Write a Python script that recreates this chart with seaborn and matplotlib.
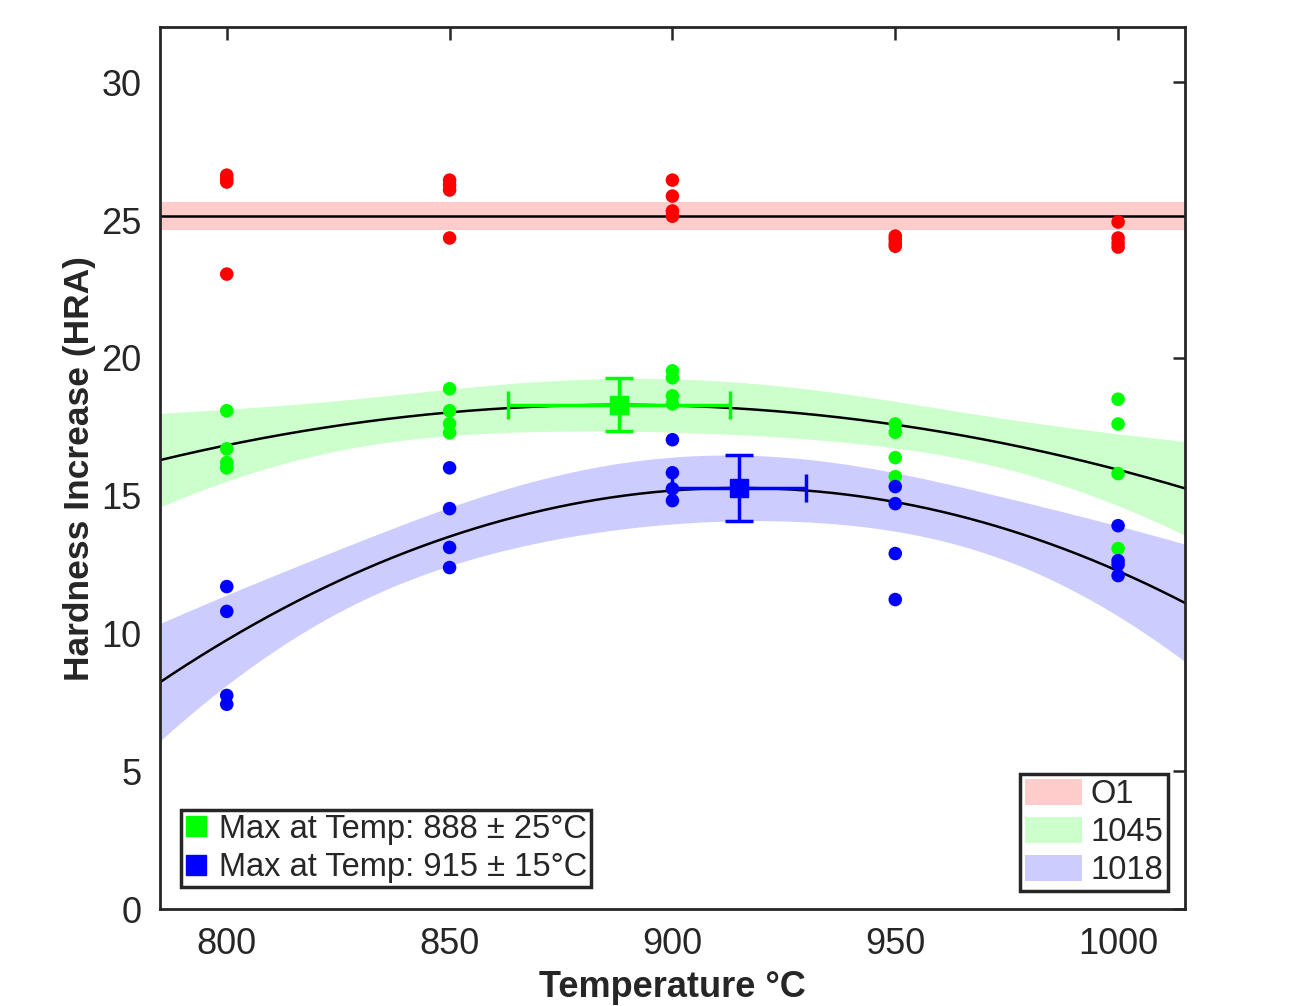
import numpy as np
import pandas as pd
import matplotlib
matplotlib.use("Agg")
import matplotlib.pyplot as plt
import seaborn as sns
from matplotlib.lines import Line2D
from matplotlib.patches import Patch

# ------------------------
# Data
# ------------------------
temps = [800, 850, 900, 950, 1000]

o1_hardness = [[26.63, 26.49, 26.38, 23.04],
               [26.45, 26.27, 26.09, 24.35],
               [26.45, 25.87, 25.33, 25.14],
               [24.42, 24.30, 24.15, 24.05],
               [24.93, 24.35, 24.17, 24.02]]
s1045_hardness = [[18.08, 16.70, 16.20, 16.01],
                  [18.88, 18.08, 17.61, 17.28],
                  [19.53, 19.28, 18.62, 18.33],
                  [17.60, 17.30, 16.38, 15.69],
                  [18.50, 17.60, 15.80, 13.08]]
s1018_hardness = [[11.70, 10.80, 7.75, 7.43],
                  [16.01, 14.53, 13.12, 12.39],
                  [17.03, 15.83, 15.25, 14.82],
                  [15.33, 14.71, 12.90, 11.23],
                  [13.91, 12.64, 12.50, 12.10]]

steels = ['O1', '1045', '1018']
fit_order = [0, 2, 2]
point_colors = ['#ff0000', '#00ff00', '#0000ff']
band_colors = ['#ffcccc', '#ccffcc', '#ccccff']

max_temp = [888, 915]
max_temp_err = [25, 15]

# t(0.975, dof) for the 95% confidence bands
t975 = {17: 2.1098, 19: 2.0930}

rows = []
for steel, data in zip(steels, [o1_hardness, s1045_hardness, s1018_hardness]):
    for T, vals in zip(temps, data):
        for v in vals:
            rows.append({'Steel': steel, 'Temp': T, 'Hardness': v})
df = pd.DataFrame(rows)


def poly_fit_ci(x, y, order, xg):
    # least squares polynomial fit with 95% confidence band of the mean
    X = np.vander(x, order + 1)
    coef, *_ = np.linalg.lstsq(X, y, rcond=None)
    resid = y - X @ coef
    dof = len(x) - (order + 1)
    s2 = resid @ resid / dof
    XtX_inv = np.linalg.inv(X.T @ X)
    Xg = np.vander(xg, order + 1)
    yg = Xg @ coef
    se = np.sqrt(s2 * np.einsum('ij,jk,ik->i', Xg, XtX_inv, Xg))
    return yg, t975[dof] * se


# ------------------------
# Plot
# ------------------------
sns.set_theme(style="white")
plt.rcParams['font.family'] = ['Liberation Sans', 'DejaVu Sans']

fig = plt.figure(figsize=(13, 10.06), dpi=100)
ax = fig.add_axes([0.123, 0.0964, 0.7885, 0.8766])

xg = np.linspace(785, 1015, 300)
fits = {}
for steel, order, bc in zip(steels, fit_order, band_colors):
    sub = df[df['Steel'] == steel]
    yg, ci = poly_fit_ci(sub['Temp'].to_numpy(float), sub['Hardness'].to_numpy(), order, xg)
    fits[steel] = (yg, ci)
    ax.fill_between(xg, yg - ci, yg + ci, color=bc, lw=0, zorder=1)

for steel in steels:
    yg, _ = fits[steel]
    sns.lineplot(x=xg, y=yg, color='black', lw=1.8, ax=ax, zorder=2)

sns.scatterplot(data=df, x='Temp', y='Hardness', hue='Steel', hue_order=steels,
                palette=point_colors, s=95, edgecolor='none', legend=False,
                ax=ax, zorder=3)

# maxima of the quadratic fits with error bars
for steel, mt, mte, pc in zip(['1045', '1018'], max_temp, max_temp_err, point_colors[1:]):
    yg, ci = fits[steel]
    ym = np.interp(mt, xg, yg)
    ye = np.interp(mt, xg, ci)
    ax.errorbar(mt, ym, xerr=mte, yerr=ye, fmt='s', color=pc, ms=13,
                elinewidth=2.5, capsize=10, capthick=2.5, zorder=4)

ax.set_xlim(785, 1015)
ax.set_ylim(0, 32)
ax.set_xticks([800, 850, 900, 950, 1000])
ax.set_yticks([0, 5, 10, 15, 20, 25, 30])
ax.tick_params(direction='in', length=9, width=1.8, top=True, right=True,
               labelsize=26, colors='#262626', pad=13)
for sp in ax.spines.values():
    sp.set_color('#262626')
    sp.set_linewidth(2)
ax.set_xlabel('Temperature °C', fontsize=26, fontweight='bold', color='#262626', labelpad=6)
ax.set_ylabel('Hardness Increase (HRA)', fontsize=25.5, fontweight='bold', color='#262626', labelpad=4)

# legends
max_handles = [Line2D([], [], marker='s', ls='none', color=c, ms=14) for c in point_colors[1:]]
max_labels = ['Max at Temp: %d ± %d°C' % (t, e) for t, e in zip(max_temp, max_temp_err)]
leg1 = ax.legend(max_handles, max_labels, loc='lower left', bbox_to_anchor=(0.0205, 0.025),
                 borderaxespad=0, fontsize=23.5, handlelength=0.7, handletextpad=0.35,
                 labelspacing=0.22, borderpad=0.12, fancybox=False, framealpha=1,
                 edgecolor='#262626')
leg1.get_frame().set_linewidth(2.5)
ax.add_artist(leg1)

band_handles = [Patch(facecolor=c, edgecolor='none') for c in band_colors]
leg2 = ax.legend(band_handles, steels, loc='lower right', bbox_to_anchor=(0.9834, 0.0204),
                 borderaxespad=0, fontsize=23.5, handlelength=1.75, handleheight=0.85,
                 handletextpad=0.25, labelspacing=0.2, borderpad=0.15, fancybox=False,
                 framealpha=1, edgecolor='#262626')
leg2.get_frame().set_linewidth(2.5)

plt.savefig('out.png', dpi=100)
